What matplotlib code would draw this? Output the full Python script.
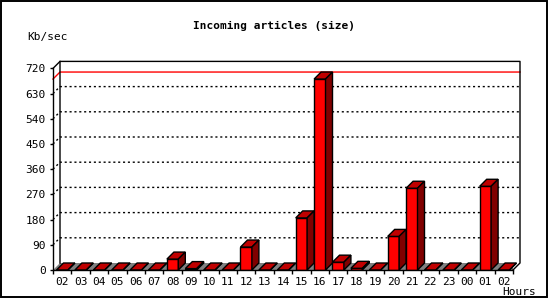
import matplotlib
matplotlib.use("Agg")
import matplotlib.pyplot as plt
from matplotlib.patches import Polygon, Rectangle

# hourly incoming article volume, Kb/sec
hours = ['02', '03', '04', '05', '06', '07', '08', '09', '10', '11', '12', '13',
         '14', '15', '16', '17', '18', '19', '20', '21', '22', '23', '00', '01', '02']
kbsec = [0, 0, 0, 0, 0, 0, 39, 5, 0, 0, 82, 0,
         0, 186, 682, 28, 6, 0, 120, 292, 0, 0, 0, 299, 0]
yticks = [0, 90, 180, 270, 360, 450, 540, 630, 720]

plt.rcParams['font.family'] = ['DejaVu Sans Mono']

fig = plt.figure(figsize=(5.5, 3), dpi=100)
ax = fig.add_axes([53 / 550, 30 / 300, 460 / 550, 201.6 / 300])
n = len(hours)
ax.set_xlim(-0.5, n - 0.5)
ax.set_ylim(0, 720)
for s in ax.spines.values():
    s.set_visible(False)

# depth of the fake 3d effect (7 px), in data units
pos = ax.get_position()
dx = 7 / (pos.width * 550) * n
dy = 7 / (pos.height * 300) * 720
x0, x1 = -0.5, n - 0.5

# floor
ax.add_patch(Polygon([(x0, 0), (x1, 0), (x1 + dx, dy), (x0 + dx, dy)],
                     closed=True, facecolor='#808080', edgecolor='none', zorder=1))

# grid on the back wall (with the diagonal from the front axis)
for v in yticks[1:-1]:
    ax.plot([x0, x0 + dx, x1 + dx], [v, v + dy, v + dy], color='black', lw=1,
            linestyle=(0, (1.5, 2)), clip_on=False, zorder=1)

# max line
top = max(kbsec)
ax.plot([x0, x0 + dx, x1 + dx], [top, top + dy, top + dy], color='red', lw=1,
        clip_on=False, zorder=1)

# frame of the box
ax.plot([x0 + dx, x0 + dx, x1 + dx, x1 + dx, x1], [dy, 720 + dy, 720 + dy, dy, 0],
        color='black', lw=1, clip_on=False, zorder=1)
ax.plot([x0, x0 + dx], [720, 720 + dy], color='black', lw=1, clip_on=False, zorder=1)
ax.plot([x0, x0, x1], [720, 0, 0], color='black', lw=1, clip_on=False, zorder=5)

# bars
hw = 0.31
for i, v in enumerate(kbsec):
    l, r = i - hw, i + hw
    ax.add_patch(Polygon([(l, 0), (r, 0), (r, v), (l, v)], closed=True,
                         facecolor='#ff0000', edgecolor='black', lw=1, zorder=3))
    ax.add_patch(Polygon([(l, v), (r, v), (r + dx, v + dy), (l + dx, v + dy)], closed=True,
                         facecolor='#c00000', edgecolor='black', lw=1, zorder=3,
                         clip_on=False))
    ax.add_patch(Polygon([(r, 0), (r + dx, dy), (r + dx, v + dy), (r, v)], closed=True,
                         facecolor='#800000', edgecolor='black', lw=1, zorder=3,
                         clip_on=False))

ax.set_yticks(yticks)
ax.tick_params(axis='y', length=2.2, width=1, pad=3, labelsize=8)
ax.set_xticks(range(n))
ax.set_xticklabels(hours)
ax.set_xticks([k - 0.5 for k in range(n + 1)], minor=True)
ax.tick_params(axis='x', which='major', length=0, pad=5, labelsize=8)
ax.tick_params(axis='x', which='minor', length=3, width=1)

fig.text(274 / 550, 1 - 26 / 300, 'Incoming articles (size)', ha='center', va='center',
         fontsize=8, fontweight='bold')
fig.text(47 / 550, 1 - 37 / 300, 'Kb/sec', ha='center', va='center', fontsize=8)
fig.text(519 / 550, 1 - 292 / 300, 'Hours', ha='center', va='center', fontsize=8)

fig.patches.append(Rectangle((1 / 550, 3 / 300), 546 / 550, 296 / 300,
                             transform=fig.transFigure, fill=False,
                             edgecolor='black', lw=1.4))

fig.savefig('out.png', dpi=100)
